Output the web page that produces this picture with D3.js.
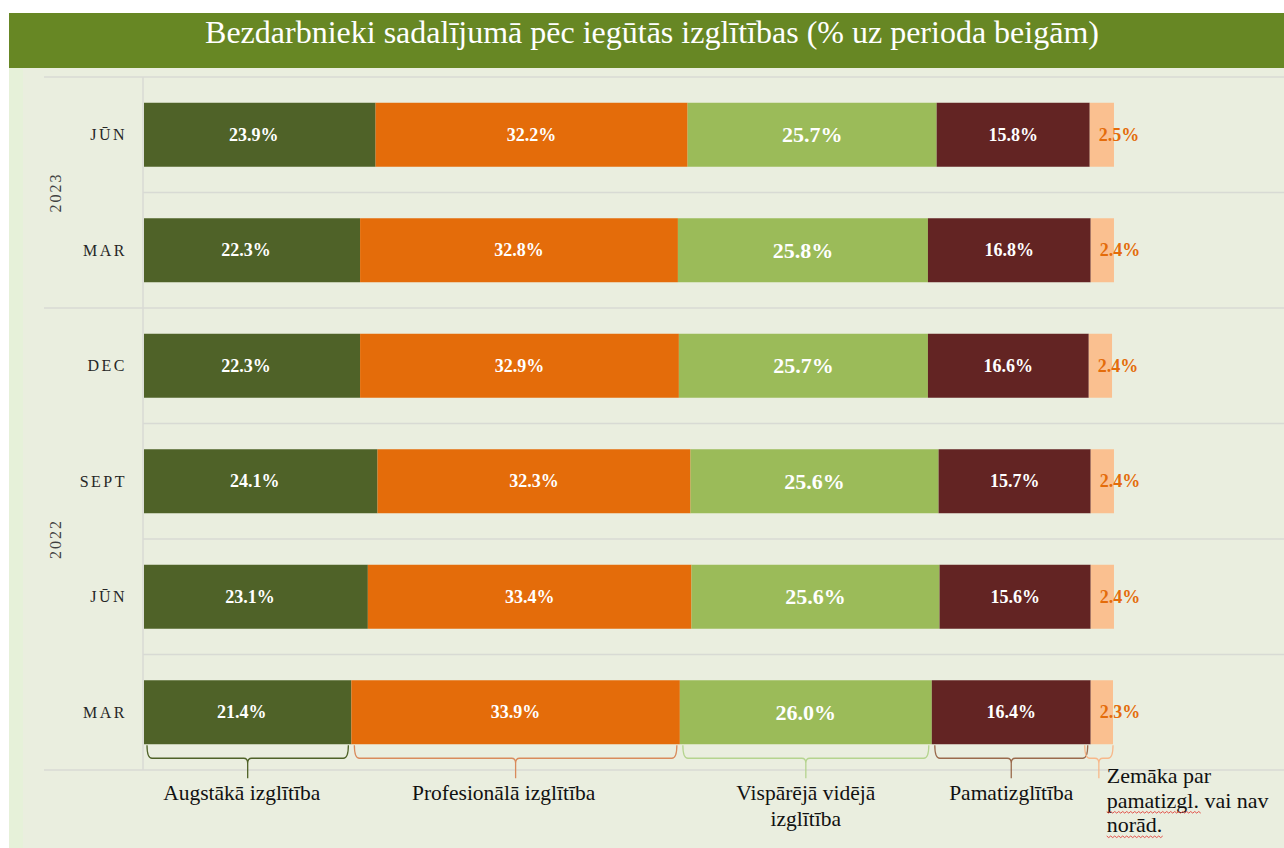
<!DOCTYPE html>
<html>
<head>
<meta charset="utf-8">
<script src="https://cdn.jsdelivr.net/npm/d3@7"></script>
<style>
  body { margin: 0; background: #fff; }
  svg { display: block; font-family: "Liberation Serif", "Times New Roman", serif; }
</style>
</head>
<body>
<svg id="chart" width="1284" height="848"></svg>
<script>
// rows, top to bottom
const years = ["2023", "2023", "2022", "2022", "2022", "2022"];
const months = ["JŪN", "MAR", "DEC", "SEPT", "JŪN", "MAR"];

const series = ["Augstākā izglītība", "Profesionālā izglītība", "Vispārējā vidējā izglītība", "Pamatizglītība", "Zemāka par pamatizgl. vai nav norād."];
const seriesLines = [
  ["Augstākā izglītība"],
  ["Profesionālā izglītība"],
  ["Vispārējā vidējā", "izglītība"],
  ["Pamatizglītība"],
  ["Zemāka par", "pamatizgl. vai nav", "norād."]
];

const augstaka  = [23.9, 22.3, 22.3, 24.1, 23.1, 21.4];
const profes    = [32.2, 32.8, 32.9, 32.3, 33.4, 33.9];
const videja    = [25.7, 25.8, 25.7, 25.6, 25.6, 26.0];
const pamat     = [15.8, 16.8, 16.6, 15.7, 15.6, 16.4];
const zemaka    = [2.5, 2.4, 2.4, 2.4, 2.4, 2.3];

const title = "Bezdarbnieki sadalījumā pēc iegūtās izglītības (% uz perioda beigām)";

const colors = ["#4f6228", "#e46c0a", "#9bbb59", "#632423", "#fac090"];
const braceColors = ["#4f6228", "#d98b5c", "#b5d48f", "#9a6a4c", "#f7b88a"];

const svg = d3.select("#chart");

// backgrounds
svg.append("rect").attr("x", 9).attr("y", 68).attr("width", 1275).attr("height", 780).attr("fill", "#e6f1d9");
svg.append("rect").attr("x", 23).attr("y", 68).attr("width", 1261).attr("height", 780).attr("fill", "#eaeedf");
svg.append("rect").attr("x", 9).attr("y", 13).attr("width", 1275).attr("height", 55).attr("fill", "#678724");
svg.append("text")
  .attr("x", 652).attr("y", 43)
  .attr("text-anchor", "middle")
  .attr("fill", "#fff").attr("font-size", 32)
  .text(title);

const rows = months.map((m, i) => ({
  key: i, month: m, year: years[i],
  vals: [augstaka[i], profes[i], videja[i], pamat[i], zemaka[i]]
}));

const x = d3.scaleLinear().domain([0, 100]).range([144, 1113]);
const y = d3.scaleBand().domain(rows.map(d => d.key)).range([77, 770])
  .paddingInner(0.446).paddingOuter(0.223);

const grid = "#d8dad4";
// grid lines at band boundaries
const step = y.step();
const bounds = d3.range(rows.length + 1).map(i => 77 + i * step);
svg.append("g").selectAll("line").data(bounds).join("line")
  .attr("x1", (d, i) => (i === 0 || i === rows.length || years[i] !== years[i - 1]) ? 44 : 143)
  .attr("x2", 1284)
  .attr("y1", d => d).attr("y2", d => d)
  .attr("stroke", grid).attr("stroke-width", 1.5);
svg.append("line").attr("x1", 143).attr("x2", 143).attr("y1", 77).attr("y2", 770)
  .attr("stroke", grid).attr("stroke-width", 1.5);

// stacked data
const stack = rows.map(r => {
  let acc = 0;
  return r.vals.map((v, j) => { const s = acc; acc += v; return { row: r.key, j, v, x0: s, x1: acc }; });
});
const segs = stack.flat();

svg.append("g").selectAll("rect").data(segs).join("rect")
  .attr("x", d => x(d.x0))
  .attr("y", d => y(d.row))
  .attr("width", d => x(d.x1) - x(d.x0))
  .attr("height", y.bandwidth())
  .attr("fill", d => colors[d.j]);

svg.append("g").selectAll("text").data(segs).join("text")
  .attr("x", d => d.j === 4 ? x(d.x0) + 9 : (x(d.x0) + x(d.x1)) / 2 - (d.j === 0 ? 6 : 0))
  .attr("y", d => y(d.row) + y.bandwidth() / 2)
  .attr("text-anchor", d => d.j === 4 ? "start" : "middle")
  .attr("dominant-baseline", "central")
  .attr("font-weight", "bold")
  .attr("font-size", d => d.j === 2 ? 22 : 18)
  .attr("fill", d => d.j === 4 ? "#e46c0a" : "#fff")
  .text(d => d.v.toFixed(1) + "%");

// month labels
svg.append("g").selectAll("text").data(rows).join("text")
  .attr("x", 127)
  .attr("y", d => y(d.key) + y.bandwidth() / 2)
  .attr("text-anchor", "end").attr("dominant-baseline", "central")
  .attr("font-size", 16).attr("letter-spacing", 2.5).attr("fill", "#262626")
  .text(d => d.month);

// year labels
const yearGroups = d3.groups(rows, d => d.year);
svg.append("g").selectAll("text").data(yearGroups).join("text")
  .attr("transform", d => {
    const ys = d[1].map(r => y(r.key));
    const mid = (d3.min(ys) - (step - y.bandwidth()) / 2 + d3.max(ys) + y.bandwidth() + (step - y.bandwidth()) / 2) / 2;
    return `translate(55,${mid}) rotate(-90)`;
  })
  .attr("text-anchor", "middle").attr("dominant-baseline", "central")
  .attr("font-size", 16).attr("letter-spacing", 2).attr("fill", "#404040")
  .text(d => d[0]);

// braces under the last bar
const last = stack[stack.length - 1];
const by0 = y(last[0].row) + y.bandwidth() + 1, by1 = by0 + 13, by2 = by0 + 33;
function brace(a, b) {
  const m = (a + b) / 2;
  return `M${a},${by0} Q${a},${by1} ${a + 5},${by1} L${m - 4},${by1} Q${m},${by1} ${m},${by1 + 5} L${m},${by2}` +
    ` M${m},${by1 + 5} Q${m},${by1} ${m + 4},${by1} L${b - 5},${by1} Q${b},${by1} ${b},${by0}`;
}
svg.append("g").selectAll("path").data(last).join("path")
  .attr("d", d => {
    const a = x(d.x0), b = x(d.x1);
    return (b - a) > 50 ? brace(a + 3, b - 3) : brace(a - 6, b);
  })
  .attr("fill", "none")
  .attr("stroke", d => braceColors[d.j])
  .attr("stroke-width", 1.3);

// category labels
const labels = svg.append("g").selectAll("text").data(last).join("text")
  .attr("font-size", d => d.j === 4 ? 22 : 21.5).attr("fill", "#111")
  .attr("text-anchor", d => d.j === 4 ? "start" : "middle")
  .attr("x", d => d.j === 4 ? x(d.x0) + 16 : (d.j === 0 ? (x(d.x0) + x(d.x1)) / 2 - 6 : (x(d.x0) + x(d.x1)) / 2 - (d.j === 1 ? 12 : 0)))
  .attr("y", d => d.j === 4 ? 783 : 800);
labels.selectAll("tspan").data(d => seriesLines[d.j].map(t => ({ t, j: d.j }))).join("tspan")
  .attr("x", function () { return this.parentNode.getAttribute("x"); })
  .attr("dy", (d, i) => i === 0 ? 0 : (d.j === 4 ? 24.5 : 26))
  .text(d => d.t);

// spell-check squiggles on the last label
labels.filter(d => d.j === 4).each(function () {
  const spans = d3.select(this).selectAll("tspan").nodes();
  const marks = [[spans[1], "pamatizgl."], [spans[2], "norād."]];
  marks.forEach(([node, word]) => {
    const start = node.getStartPositionOfChar(0);
    const end = node.getEndPositionOfChar(word.length - 1);
    const yy = start.y + 4;
    let p = `M${start.x},${yy}`;
    for (let xx = start.x, k = 0; xx < end.x; xx += 2, k++) p += ` L${xx + 2},${yy + (k % 2 ? 0 : 1.6)}`;
    svg.append("path").attr("d", p).attr("fill", "none").attr("stroke", "#e0403a").attr("stroke-width", 0.9);
  });
});
</script>
</body>
</html>
